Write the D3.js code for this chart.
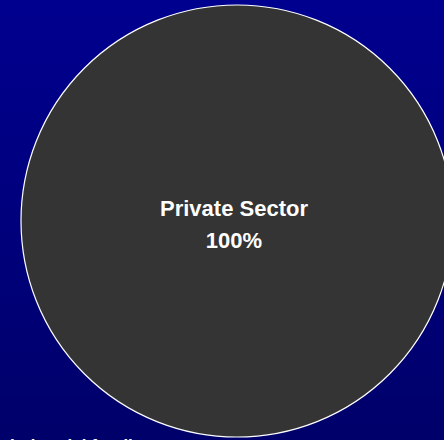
<!DOCTYPE html>
<html>
<head>
<meta charset="utf-8">
<script src="https://cdn.jsdelivr.net/npm/d3@7"></script>
<style>
  html, body { margin: 0; padding: 0; background: #000080; }
  svg { display: block; }
</style>
</head>
<body>
<svg id="chart" width="444" height="440"></svg>
<script>
// Funding shares by sector
const categories = ["Private Sector"];
const shares = [100];
const sliceColors = ["#343434"];
const footnote = "Industrial funding";

const width = 444, height = 440;
const svg = d3.select("#chart");

// Background: vertical navy gradient
const defs = svg.append("defs");
const grad = defs.append("linearGradient")
  .attr("id", "bg").attr("x1", 0).attr("y1", 0).attr("x2", 0).attr("y2", 1);
grad.append("stop").attr("offset", "0%").attr("stop-color", "#00008f");
grad.append("stop").attr("offset", "100%").attr("stop-color", "#00006a");
svg.append("rect").attr("width", width).attr("height", height).attr("fill", "url(#bg)");

// Footnote text along the bottom edge (runs past the frame)
svg.append("text")
  .attr("x", 10).attr("y", 450.5)
  .attr("font-family", "Liberation Sans, Arial, sans-serif")
  .attr("font-weight", "bold").attr("font-size", 17)
  .attr("fill", "#ffffff")
  .text(footnote);

// Pie
const cx = 237, cy = 221, radius = 216;
const pie = d3.pie().sort(null).value(d => d.value);
const arc = d3.arc().innerRadius(0).outerRadius(radius);
const data = categories.map((c, i) => ({ name: c, value: shares[i], color: sliceColors[i] }));
const total = d3.sum(shares);

const g = svg.append("g").attr("transform", `translate(${cx},${cy})`);
g.selectAll("path.slice")
  .data(pie(data))
  .join("path")
  .attr("class", "slice")
  .attr("d", arc)
  .attr("fill", d => d.data.color)
  .attr("stroke", "#ffffff")
  .attr("stroke-width", 1.2);

// Slice labels: name and percentage
const labels = g.selectAll("text.label")
  .data(pie(data))
  .join("text")
  .attr("class", "label")
  .attr("text-anchor", "middle")
  .attr("font-family", "Liberation Sans, Arial, sans-serif")
  .attr("font-weight", "bold")
  .attr("font-size", 22)
  .attr("fill", "#ffffff");
labels.append("tspan").attr("x", -3).attr("y", -5).text(d => d.data.name);
labels.append("tspan").attr("x", -3).attr("y", 27)
  .text(d => Math.round(d.data.value / total * 100) + "%");
</script>
</body>
</html>
